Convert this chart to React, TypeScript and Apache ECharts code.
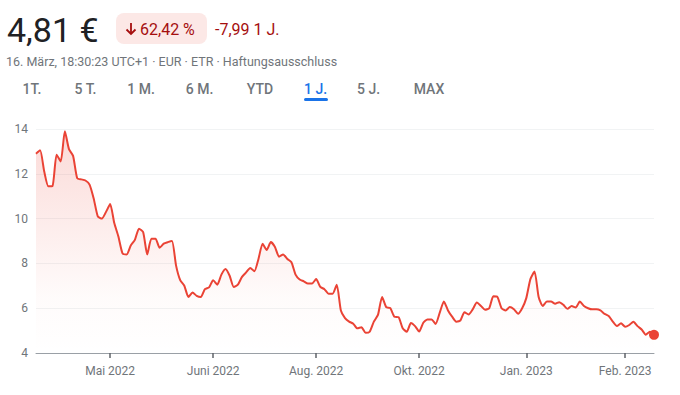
import React, { useEffect, useRef } from "react";
import * as echarts from "echarts";

const priceValues: number[] = [
  12.9, 13.05, 12.1, 11.44, 11.45, 12.85, 12.55, 13.9, 13.1, 12.8,
  11.8, 11.75, 11.7, 11.52, 10.9, 10.1, 10.0, 10.3, 10.65, 9.8,
  9.2, 8.45, 8.4, 8.8, 9.05, 9.55, 9.4, 8.4, 9.1, 9.1,
  8.7, 8.88, 8.95, 9.0, 7.9, 7.25, 7.0, 6.5, 6.7, 6.55,
  6.5, 6.85, 6.93, 7.25, 7.05, 7.5, 7.75, 7.45, 6.95, 7.05,
  7.4, 7.6, 7.8, 7.65, 8.2, 8.88, 8.6, 8.95, 8.73, 8.3,
  8.4, 8.2, 8.05, 7.5, 7.28, 7.2, 7.1, 7.1, 7.3, 6.95,
  6.85, 6.65, 6.65, 7.05, 5.9, 5.56, 5.4, 5.31, 5.1, 5.15,
  4.9, 4.95, 5.4, 5.7, 6.5, 6.05, 6.0, 5.62, 5.6, 5.1,
  4.95, 5.34, 5.2, 4.96, 5.35, 5.5, 5.5, 5.3, 5.8, 6.3,
  5.9, 5.62, 5.4, 5.45, 5.82, 5.72, 5.95, 6.25, 6.1, 5.93,
  6.0, 6.53, 6.5, 6.0, 5.9, 6.05, 5.95, 5.75, 6.0, 6.45,
  7.3, 7.64, 6.5, 6.1, 6.3, 6.3, 6.2, 6.27, 6.15, 5.97,
  6.1, 6.03, 6.3, 6.1, 6.0, 5.95, 5.95, 5.9, 5.75, 5.65,
  5.4, 5.2, 5.33, 5.17, 5.25, 5.4, 5.2, 5.05, 4.82, 4.95,
  4.81,
];

const categories: string[] = priceValues.map((_, i) => String(i));

const tickIndices: number[] = [18, 43, 68, 93, 119, 143];
const tickLabels: string[] = ["Mai 2022", "Juni 2022", "Aug. 2022", "Okt. 2022", "Jan. 2023", "Feb. 2023"];

const rangeTabs: string[] = ["1T.", "5 T.", "1 M.", "6 M.", "YTD", "1 J.", "5 J.", "MAX"];
const tabCenters: number[] = [32, 85.5, 141, 199.5, 260, 315.5, 368.5, 429];
const activeTab = "1 J.";

const priceText = "4,81 €";
const changePct = "62,42 %";
const changeAbs = "-7,99 1 J.";
const subtitle = "16. März, 18:30:23 UTC+1 · EUR · ETR · Haftungsausschluss";

const FONT = "Roboto, Arial, sans-serif";

export default function App() {
  const ref = useRef<HTMLDivElement>(null);

  useEffect(() => {
    if (!ref.current) return;
    const chart = echarts.init(ref.current, undefined, { renderer: "svg" });
    const red = "#ea4335";
    const last = priceValues.length - 1;

    const graphics: any[] = [
      {
        type: "text",
        x: 7,
        y: 30,
        style: { text: priceText, font: `400 34px ${FONT}`, fill: "#202124", textVerticalAlign: "middle" },
      },
      {
        type: "rect",
        shape: { x: 116, y: 13, width: 91, height: 31, r: 8 },
        style: { fill: "#fce8e6" },
      },
      {
        type: "line",
        shape: { x1: 131, y1: 23, x2: 131, y2: 34 },
        style: { stroke: "#a50e0e", lineWidth: 1.8 },
      },
      {
        type: "polyline",
        shape: { points: [[126.5, 29.5], [131, 34], [135.5, 29.5]] },
        style: { stroke: "#a50e0e", lineWidth: 1.8, fill: null },
      },
      {
        type: "text",
        x: 140,
        y: 29,
        style: { text: changePct, font: `400 16px ${FONT}`, fill: "#a50e0e", textVerticalAlign: "middle" },
      },
      {
        type: "text",
        x: 215,
        y: 29,
        style: { text: changeAbs, font: `400 16px ${FONT}`, fill: "#a50e0e", textVerticalAlign: "middle" },
      },
      {
        type: "text",
        x: 6,
        y: 61,
        style: { text: subtitle, font: `400 12.5px ${FONT}`, fill: "#70757a", textVerticalAlign: "middle" },
      },
      ...rangeTabs.map((t, i) => ({
        type: "text",
        x: tabCenters[i],
        y: 88.5,
        style: {
          text: t,
          font: `500 14px ${FONT}`,
          fill: t === activeTab ? "#1a73e8" : "#70757a",
          textAlign: "center",
          textVerticalAlign: "middle",
        },
      })),
      {
        type: "rect",
        shape: { x: 304, y: 98, width: 24, height: 3, r: 1.5 },
        style: { fill: "#1a73e8" },
      },
    ];

    chart.setOption({
      animation: false,
      backgroundColor: "#ffffff",
      graphic: graphics,
      grid: { left: 36, right: 26, top: 129, bottom: 42, containLabel: false },
      xAxis: {
        type: "category",
        data: categories,
        boundaryGap: false,
        axisLine: { show: true, lineStyle: { color: "#9aa0a6", width: 1 } },
        axisTick: {
          show: true,
          interval: (i: number) => tickIndices.includes(i),
          length: 5,
          lineStyle: { color: "#5f6368", width: 1.5 },
        },
        axisLabel: {
          interval: (i: number) => tickIndices.includes(i),
          formatter: (_v: string, i: number) => {
            const k = tickIndices.indexOf(i);
            return k >= 0 ? tickLabels[k] : "";
          },
          color: "#70757a",
          fontFamily: FONT,
          fontSize: 12,
          margin: 12,
        },
        splitLine: { show: false },
      },
      yAxis: {
        type: "value",
        min: 4,
        max: 14,
        interval: 2,
        axisLine: { show: false },
        axisTick: { show: false },
        axisLabel: { color: "#70757a", fontFamily: FONT, fontSize: 12, margin: 8 },
        splitLine: { show: true, lineStyle: { color: "#f1f3f4", width: 1 } },
      },
      series: [
        {
          type: "line",
          data: priceValues,
          showSymbol: false,
          smooth: 0.2,
          lineStyle: { color: red, width: 2 },
          itemStyle: { color: red },
          areaStyle: {
            color: new echarts.graphic.LinearGradient(0, 0, 0, 1, [
              { offset: 0, color: "rgba(234,67,53,0.28)" },
              { offset: 0.75, color: "rgba(234,67,53,0.03)" },
              { offset: 1, color: "rgba(234,67,53,0)" },
            ]),
          },
          markPoint: {
            symbol: "circle",
            symbolSize: 10,
            label: { show: false },
            itemStyle: { color: red },
            data: [{ coord: [categories[last], priceValues[last]] }],
          },
        },
      ],
    });

    return () => chart.dispose();
  }, []);

  return (
    <div
      ref={ref}
      style={{ position: "fixed", left: 0, top: 0, width: 680, height: 395, background: "#fff" }}
    />
  );
}
